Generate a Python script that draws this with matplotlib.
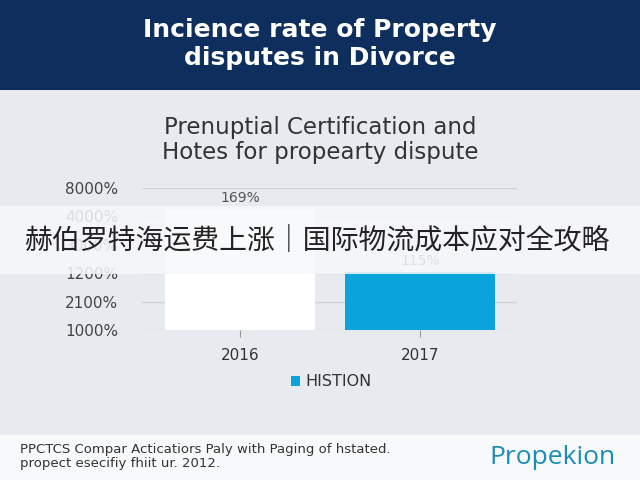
import matplotlib
matplotlib.use('Agg')
import matplotlib.pyplot as plt
from matplotlib.patches import Rectangle, Patch

# data (bar heights in tick units, axis labels as printed)
years = ['2016', '2017']
heights = [4.26, 2.05]
bar_labels = ['169%', '115%']
bar_colors = ['#ffffff', '#0aa3dc']
ytick_labels = ['1000%', '2100%', '1200%', '3000%', '4000%', '8000%']
legend_label = 'HISTION'

title = 'Incience rate of Property\ndisputes in Divorce'
subtitle = 'Prenuptial Certification and\nHotes for propearty dispute'
footnote = 'PPCTCS Compar Acticatiors Paly with Paging of hstated.\npropect esecifiy fhiit ur. 2012.'
brand = 'Propekion'
banner = '赫伯罗特海运费上涨｜国际物流成本应对全攻略'

W, H = 640, 480
fig = plt.figure(figsize=(6.4, 4.8), dpi=100)
fig.patch.set_facecolor('#e7eaee')

def rect(x0, y0, x1, y1, color, z, alpha=1.0):
    # pixel box (top-left origin) -> figure coords
    fig.add_artist(Rectangle((x0 / W, 1 - y1 / H), (x1 - x0) / W, (y1 - y0) / H,
                             transform=fig.transFigure, facecolor=color,
                             edgecolor='none', zorder=z, alpha=alpha))

rect(0, 0, W, 90, '#0e2f5d', -5)
rect(0, 435, W, H, '#f8f9fa', -5)

fig.text(0.5, 1 - 44 / H, title, ha='center', va='center', color='white',
         fontsize=18, fontweight='bold', family='DejaVu Sans', linespacing=1.2)
fig.text(0.5, 1 - 140 / H, subtitle, ha='center', va='center', color='#333333',
         fontsize=16.5, family='DejaVu Sans', linespacing=1.15)

ax = fig.add_axes([142 / W, 1 - 330 / H, (517 - 142) / W, 142 / H])
ax.patch.set_visible(False)
x = range(len(years))
bars = ax.bar(x, heights, width=0.833, color=bar_colors, zorder=3)
bars[1].set_label(legend_label)
ax.bar_label(bars, labels=bar_labels, padding=3, color='#555555', fontsize=10)

ax.set_xlim(-0.544, 1.539)
ax.set_ylim(0, 5)
ax.set_yticks(range(len(ytick_labels)))
ax.set_yticklabels(ytick_labels, fontsize=11, color='#444444')
ax.set_xticks(list(x))
ax.set_xticklabels(years, fontsize=11, color='#333333')
ax.tick_params(axis='y', length=0, pad=17)
ax.tick_params(axis='x', length=5, width=0.8, color='#999999', pad=8)
ax.grid(axis='y', color='#cfd3d8', lw=1, zorder=0)
for s in ax.spines.values():
    s.set_visible(False)

leg = fig.legend(handles=[Patch(facecolor=bar_colors[1], label=legend_label)],
                 loc='center', bbox_to_anchor=(331 / W, 1 - 382 / H),
                 frameon=False, handlelength=0.6, handleheight=0.6,
                 handletextpad=0.3, prop={'size': 11.5})
for t in leg.get_texts():
    t.set_color('#333333')

fig.text(20 / W, 1 - 457 / H, footnote, ha='left', va='center', color='#333333',
         fontsize=9.5, linespacing=1.1)
fig.text(615 / W, 1 - 458 / H, brand, ha='right', va='center', color='#1b8db5',
         fontsize=19, family='Open Sans')

# overlay strip
rect(0, 206, W, 274, '#f7f8fa', 10, alpha=0.85)
fig.text(0.495, 1 - 241 / H, banner, ha='center', va='center', color='#222222',
         fontsize=20.1, family=['Noto Sans CJK SC', 'DejaVu Sans'], zorder=11)

fig.savefig('out.png', dpi=100)
